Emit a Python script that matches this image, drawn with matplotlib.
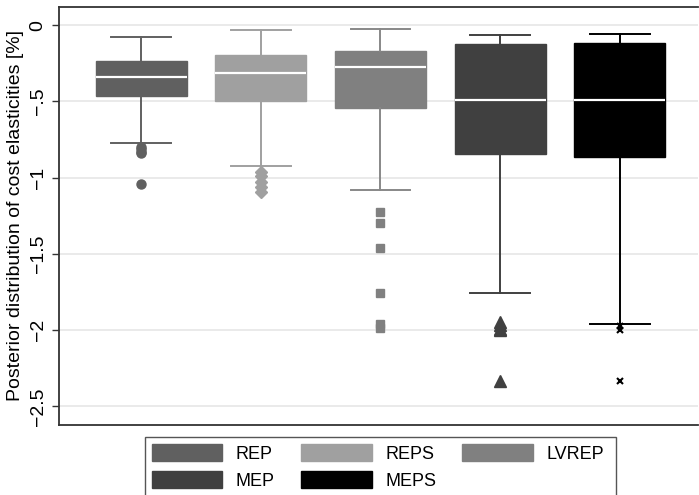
import numpy as np
import matplotlib.pyplot as plt
from matplotlib.patches import Patch, Rectangle

# model names and their styling in the Stata-like box plot
models = ['REP', 'REPS', 'LVREP', 'MEP', 'MEPS']
box_colors = ['#606060', '#a0a0a0', '#808080', '#404040', '#000000']
flier_markers = ['o', 'D', 's', '^', 'x']

# box statistics (cost elasticities, %)
whis_hi = [-0.079, -0.031, -0.022, -0.066, -0.055]
q3 = [-0.236, -0.195, -0.171, -0.125, -0.119]
median = [-0.341, -0.311, -0.276, -0.490, -0.488]
q1 = [-0.462, -0.497, -0.541, -0.846, -0.862]
whis_lo = [-0.774, -0.921, -1.080, -1.754, -1.958]

# outside values
fliers_rep = [-0.80, -0.815, -0.83, -0.84, -1.043]
fliers_reps = [-0.96, -0.99, -1.03, -1.06, -1.095]
fliers_lvrep = [-1.227, -1.295, -1.461, -1.759, -1.96, -1.987]
fliers_mep = [-1.95, -1.97, -1.99, -2.0, -2.334]
fliers_meps = [-1.975, -2.0, -2.334]

yticks = [0, -0.5, -1, -1.5, -2, -2.5]
ytick_labels = ['0', '\u2212.5', '\u22121', '\u22121.5', '\u22122', '\u22122.5']

plt.rcParams['font.family'] = ['Liberation Sans', 'DejaVu Sans']

fig = plt.figure(figsize=(6.99, 4.95), dpi=100)
ax = fig.add_axes([59 / 699, 1 - 425 / 495, (698 - 59) / 699, (425 - 6.5) / 495])

fliers_all = [fliers_rep, fliers_reps, fliers_lvrep, fliers_mep, fliers_meps]
stats = []
for i in range(len(models)):
    stats.append(dict(med=median[i], q1=q1[i], q3=q3[i], whislo=whis_lo[i],
                      whishi=whis_hi[i], fliers=np.array(fliers_all[i]), label=models[i]))

positions = np.arange(1, len(models) + 1)
bp = ax.bxp(stats, positions=positions, widths=0.76, capwidths=0.5,
            patch_artist=True, manage_ticks=False)

for i, col in enumerate(box_colors):
    bp['boxes'][i].set_facecolor(col)
    bp['boxes'][i].set_edgecolor(col)
    bp['boxes'][i].set_linewidth(1)
    for ln in bp['whiskers'][2 * i:2 * i + 2] + bp['caps'][2 * i:2 * i + 2]:
        ln.set_color(col if i != 2 else '#888888')
        ln.set_linewidth(1.4)
    bp['medians'][i].set_color('white')
    bp['medians'][i].set_linewidth(1.6)
    fl = bp['fliers'][i]
    fl.set_marker(flier_markers[i])
    if flier_markers[i] == 'x':
        fl.set_markersize(5)
        fl.set_markeredgewidth(1.5)
        fl.set_markeredgecolor(col)
    else:
        fl.set_markerfacecolor(col)
        fl.set_markeredgecolor(col)
        fl.set_markersize({'o': 6.5, 'D': 6.5, 's': 6.3, '^': 8}[flier_markers[i]])

ax.set_xlim(0.315, 5.652)
ax.set_ylim(-2.623, 0.123)
ax.set_xticks([])
ax.set_yticks(yticks)
ax.set_yticklabels(ytick_labels, rotation=90, va='center', fontsize=14)
ax.tick_params(axis='y', length=5, width=1, color='#333333', pad=4)
ax.yaxis.grid(True, color='#e4e4e4', linewidth=1.1)
ax.set_axisbelow(True)
ax.set_ylabel('Posterior distribution of cost elasticities [%]', fontsize=14, labelpad=4)

for s in ['left', 'top', 'bottom']:
    ax.spines[s].set_color('#333333')
    ax.spines[s].set_linewidth(1.3)
ax.spines['right'].set_visible(False)

# legend below the plot region, filled row by row; frame runs off the bottom edge
order = [0, 3, 1, 4, 2]
handles = [Patch(facecolor=box_colors[k], edgecolor=box_colors[k]) for k in order]
labels = [models[k] for k in order]
fig.legend(handles, labels, ncol=3, loc='upper left', frameon=False,
           bbox_to_anchor=(152 / 699, 1 - 444 / 495), borderpad=0, borderaxespad=0,
           fontsize=13, handlelength=3.9, handleheight=1.1, handletextpad=0.75,
           columnspacing=1.45, labelspacing=0.45)
fig.patches.append(Rectangle((145 / 699, -0.05), (616 - 145) / 699, 0.05 + 1 - 437 / 495,
                             transform=fig.transFigure, fill=False,
                             edgecolor='#555555', linewidth=1))

fig.savefig('out.png', dpi=100)
